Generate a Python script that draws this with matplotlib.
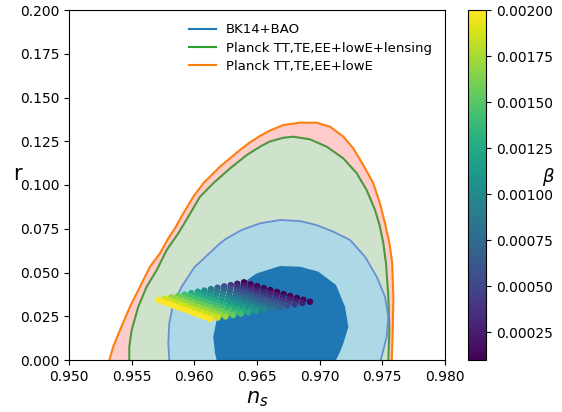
import matplotlib
matplotlib.use("Agg")
import numpy as np
import matplotlib.pyplot as plt

# contour outlines (n_s, r)
planck_ns = [0.95322, 0.95353, 0.95407, 0.95487, 0.95567, 0.95646, 0.95726, 0.95792,
             0.95846, 0.95912, 0.95992, 0.96072, 0.96205, 0.96364, 0.96444, 0.96524,
             0.96600, 0.96710, 0.96843, 0.96976, 0.97083, 0.97189, 0.97268, 0.97348,
             0.97428, 0.97481, 0.97521, 0.97556, 0.97578, 0.97588, 0.97583, 0.97575]
planck_r = [0.0000, 0.0076, 0.0171, 0.0305, 0.0419, 0.0533, 0.0610, 0.0695,
            0.0753, 0.0838, 0.0933, 0.1010, 0.1105, 0.1200, 0.1244, 0.1280,
            0.1310, 0.1343, 0.1356, 0.1356, 0.1333, 0.1276, 0.1210, 0.1114,
            0.1010, 0.0895, 0.0781, 0.0670, 0.0560, 0.0362, 0.0171, 0.0000]

lensing_ns = [0.95481, 0.95481, 0.95500, 0.95553, 0.95620, 0.95700, 0.95780, 0.95872,
              0.95952, 0.96045, 0.96151, 0.96285, 0.96418, 0.96524, 0.96600, 0.96710,
              0.96790, 0.96923, 0.97056, 0.97189, 0.97296, 0.97375, 0.97442, 0.97481,
              0.97508, 0.97529, 0.97548, 0.97556, 0.97548]
lensing_r = [0.0000, 0.0076, 0.0171, 0.0305, 0.0419, 0.0514, 0.0629, 0.0724,
             0.0819, 0.0933, 0.1010, 0.1095, 0.1171, 0.1219, 0.1248, 0.1270,
             0.1276, 0.1261, 0.1219, 0.1152, 0.1067, 0.0971, 0.0857, 0.0762,
             0.0667, 0.0553, 0.0362, 0.0171, 0.0000]

bk_outer_ns = [0.95800, 0.95792, 0.95800, 0.95832, 0.95900, 0.96000, 0.96120, 0.96205,
               0.96258, 0.96378, 0.96524, 0.96684, 0.96843, 0.96976, 0.97109, 0.97242,
               0.97362, 0.97455, 0.97521, 0.97548, 0.97535, 0.97495, 0.97487]
bk_outer_r = [0.0000, 0.0095, 0.0210, 0.0324, 0.0420, 0.0530, 0.0610, 0.0667,
              0.0695, 0.0743, 0.0781, 0.0800, 0.0794, 0.0771, 0.0733, 0.0686,
              0.0590, 0.0476, 0.0362, 0.0247, 0.0133, 0.0019, 0.0000]

bk_inner_ns = [0.96178, 0.96165, 0.96151, 0.96178, 0.96258, 0.96364, 0.96498, 0.96684,
               0.96843, 0.96989, 0.97130, 0.97202, 0.97229, 0.97189, 0.97162, 0.97130]
bk_inner_r = [0.0000, 0.0038, 0.0133, 0.0229, 0.0324, 0.0429, 0.0495, 0.0537,
              0.0533, 0.0505, 0.0429, 0.0305, 0.0190, 0.0095, 0.0046, 0.0000]

# model points: one row per curve, one column per beta value
beta = [0.002, 0.001854, 0.001708, 0.001562, 0.001415, 0.001269, 0.001123,
        0.000977, 0.000831, 0.000685, 0.000538, 0.000392, 0.000246, 0.0001]

ns_grid = [
    [0.95712, 0.95765, 0.95817, 0.95870, 0.95922, 0.95975, 0.96028, 0.96080, 0.96133, 0.96185, 0.96238, 0.96291, 0.96343, 0.96396],
    [0.95753, 0.95807, 0.95860, 0.95914, 0.95967, 0.96021, 0.96074, 0.96128, 0.96181, 0.96235, 0.96288, 0.96342, 0.96395, 0.96449],
    [0.95795, 0.95849, 0.95904, 0.95958, 0.96012, 0.96067, 0.96121, 0.96175, 0.96229, 0.96284, 0.96338, 0.96392, 0.96447, 0.96501],
    [0.95836, 0.95891, 0.95946, 0.96002, 0.96057, 0.96112, 0.96167, 0.96222, 0.96278, 0.96333, 0.96388, 0.96443, 0.96498, 0.96554],
    [0.95877, 0.95933, 0.95989, 0.96045, 0.96101, 0.96158, 0.96214, 0.96270, 0.96326, 0.96382, 0.96438, 0.96494, 0.96551, 0.96607],
    [0.95919, 0.95976, 0.96033, 0.96090, 0.96147, 0.96204, 0.96261, 0.96318, 0.96375, 0.96432, 0.96489, 0.96546, 0.96603, 0.96660],
    [0.95960, 0.96018, 0.96076, 0.96133, 0.96191, 0.96249, 0.96307, 0.96365, 0.96422, 0.96480, 0.96538, 0.96596, 0.96654, 0.96712],
    [0.96001, 0.96060, 0.96119, 0.96177, 0.96236, 0.96295, 0.96354, 0.96413, 0.96471, 0.96530, 0.96589, 0.96648, 0.96706, 0.96765],
    [0.96042, 0.96102, 0.96161, 0.96221, 0.96281, 0.96341, 0.96400, 0.96460, 0.96520, 0.96579, 0.96639, 0.96699, 0.96758, 0.96818],
    [0.96084, 0.96144, 0.96205, 0.96265, 0.96326, 0.96386, 0.96447, 0.96507, 0.96568, 0.96628, 0.96689, 0.96749, 0.96810, 0.96870],
    [0.96125, 0.96186, 0.96248, 0.96309, 0.96371, 0.96432, 0.96493, 0.96555, 0.96616, 0.96678, 0.96739, 0.96800, 0.96862, 0.96923],
]
r_grid = [
    [0.0343, 0.0351, 0.0359, 0.0366, 0.0374, 0.0382, 0.0390, 0.0397, 0.0405, 0.0413, 0.0421, 0.0428, 0.0436, 0.0444],
    [0.0332, 0.0340, 0.0348, 0.0355, 0.0363, 0.0371, 0.0379, 0.0386, 0.0394, 0.0402, 0.0410, 0.0417, 0.0425, 0.0433],
    [0.0321, 0.0329, 0.0337, 0.0344, 0.0352, 0.0360, 0.0367, 0.0375, 0.0383, 0.0391, 0.0398, 0.0406, 0.0414, 0.0422],
    [0.0310, 0.0318, 0.0326, 0.0333, 0.0341, 0.0349, 0.0356, 0.0364, 0.0372, 0.0380, 0.0387, 0.0395, 0.0403, 0.0411],
    [0.0299, 0.0307, 0.0315, 0.0322, 0.0330, 0.0338, 0.0345, 0.0353, 0.0361, 0.0369, 0.0376, 0.0384, 0.0392, 0.0400],
    [0.0289, 0.0296, 0.0304, 0.0312, 0.0319, 0.0327, 0.0335, 0.0342, 0.0350, 0.0358, 0.0366, 0.0373, 0.0381, 0.0389],
    [0.0278, 0.0285, 0.0293, 0.0301, 0.0308, 0.0316, 0.0324, 0.0331, 0.0339, 0.0347, 0.0355, 0.0362, 0.0370, 0.0377],
    [0.0267, 0.0274, 0.0282, 0.0290, 0.0297, 0.0305, 0.0313, 0.0320, 0.0328, 0.0336, 0.0344, 0.0351, 0.0359, 0.0366],
    [0.0256, 0.0263, 0.0271, 0.0279, 0.0286, 0.0294, 0.0302, 0.0309, 0.0317, 0.0325, 0.0333, 0.0340, 0.0348, 0.0355],
    [0.0245, 0.0252, 0.0260, 0.0268, 0.0275, 0.0283, 0.0291, 0.0298, 0.0306, 0.0314, 0.0322, 0.0329, 0.0337, 0.0344],
    [0.0234, 0.0242, 0.0249, 0.0257, 0.0265, 0.0272, 0.0280, 0.0288, 0.0295, 0.0303, 0.0311, 0.0318, 0.0326, 0.0333],
]

fig = plt.figure(figsize=(5.62, 4.12), dpi=100)
ax = fig.add_axes([69 / 562, 52 / 412, 376 / 562, 350 / 412])
cax = fig.add_axes([468 / 562, 52 / 412, 18 / 562, 350 / 412])

ax.fill(planck_ns, planck_r, color='#ffcccc', lw=0)
ax.plot(planck_ns, planck_r, color='#ff7f0e', lw=1.5)
ax.fill(lensing_ns, lensing_r, color='#cfe3cc', lw=0)
ax.plot(lensing_ns, lensing_r, color='#4f9640', lw=1.5)
ax.fill(bk_outer_ns, bk_outer_r, color='#add8e6', lw=0)
ax.plot(bk_outer_ns, bk_outer_r, color='#6a8ed2', lw=1.3)
ax.fill(bk_inner_ns, bk_inner_r, color='#1f77b4', lw=0)

# legend proxies
ax.plot([], [], color='C0', label='BK14+BAO')
ax.plot([], [], color='C2', label='Planck TT,TE,EE+lowE+lensing')
ax.plot([], [], color='C1', label='Planck TT,TE,EE+lowE')

ns_pts = np.array(ns_grid).ravel()
r_pts = np.array(r_grid).ravel()
beta_pts = np.tile(beta, len(ns_grid))
sc = ax.scatter(ns_pts, r_pts, c=beta_pts, cmap='viridis', s=13,
                vmin=0.0001, vmax=0.002, zorder=3)

ax.set_xlim(0.950, 0.980)
ax.set_ylim(0.0, 0.2)
ax.set_xticks([0.950, 0.955, 0.960, 0.965, 0.970, 0.975, 0.980])
ax.set_yticks([0.0, 0.025, 0.05, 0.075, 0.1, 0.125, 0.15, 0.175, 0.2])
ax.xaxis.set_major_formatter(plt.FormatStrFormatter('%.3f'))
ax.yaxis.set_major_formatter(plt.FormatStrFormatter('%.3f'))
ax.set_xlabel(r'$n_s$', fontsize=15)
ax.set_ylabel('r', rotation=0, fontsize=15, va='center')
ax.yaxis.set_label_coords(-0.138, 0.53)

ax.legend(loc='upper left', bbox_to_anchor=(0.288, 0.996), frameon=False,
          fontsize=9.5, labelspacing=0.4, handlelength=2.0)

cbar = fig.colorbar(sc, cax=cax)
cbar.set_ticks([0.00025, 0.0005, 0.00075, 0.001, 0.00125, 0.0015, 0.00175, 0.002])
cbar.ax.yaxis.set_major_formatter(plt.FormatStrFormatter('%.5f'))
fig.text(548 / 562, 1 - 177 / 412, r'$\beta$', fontsize=13, ha='center', va='center')

fig.savefig('out.png', dpi=100)
